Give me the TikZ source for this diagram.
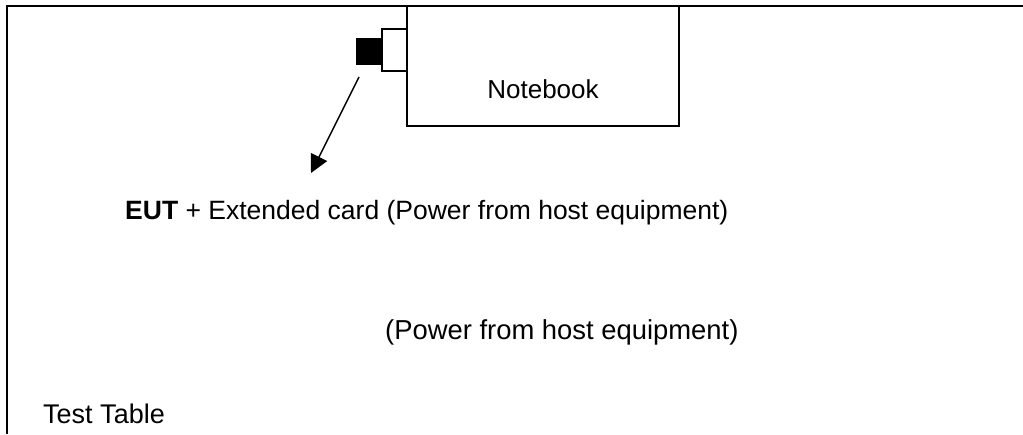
\documentclass[tikz,border=0pt]{standalone}
\usepackage{fontspec}
\setmainfont{Liberation Sans}
\usetikzlibrary{arrows.meta,positioning}

\begin{document}
\begin{tikzpicture}[
  x=1pt,y=-1pt,
  font=\fontsize{26}{31}\selectfont,
  box/.style={draw=black,line width=1.6pt,fill=white,inner sep=0pt},
  lbl/.style={inner sep=0pt,anchor=base west},
  ar/.style={-{Triangle[length=18pt,width=18pt]},line width=1.5pt}
]
\useasboundingbox (0,0) rectangle (1023,434);

% test table frame
\draw[line width=1.6pt] (1023,6) -- (7,6) -- (7,434);

\node[box,minimum width=272pt,minimum height=120pt] (nb) at (543,66) {};
\node[inner sep=0pt,anchor=base] (nbt) at (543,98) {Notebook};
\node[box,minimum width=25pt,minimum height=42pt] (slot) at (394.5,50) {};
\node[box,fill=black,minimum width=25pt,minimum height=25pt] (card) at (369.5,51.5) {};

\coordinate (a1) at (359,77);
\coordinate (a2) at (311,173);
\draw[ar] (a1) -- (a2);

\node[lbl,font=\fontsize{26.5}{31}\selectfont] (eut) at (125,219) {\textbf{EUT} + Extended card (Power from host equipment)};
\node[lbl,font=\fontsize{27.4}{32}\selectfont] (pwr) at (385,339) {(Power from host equipment)};
\node[lbl,font=\fontsize{27}{32}\selectfont] (tbl) at (43,423) {Test Table};
\end{tikzpicture}
\end{document}
